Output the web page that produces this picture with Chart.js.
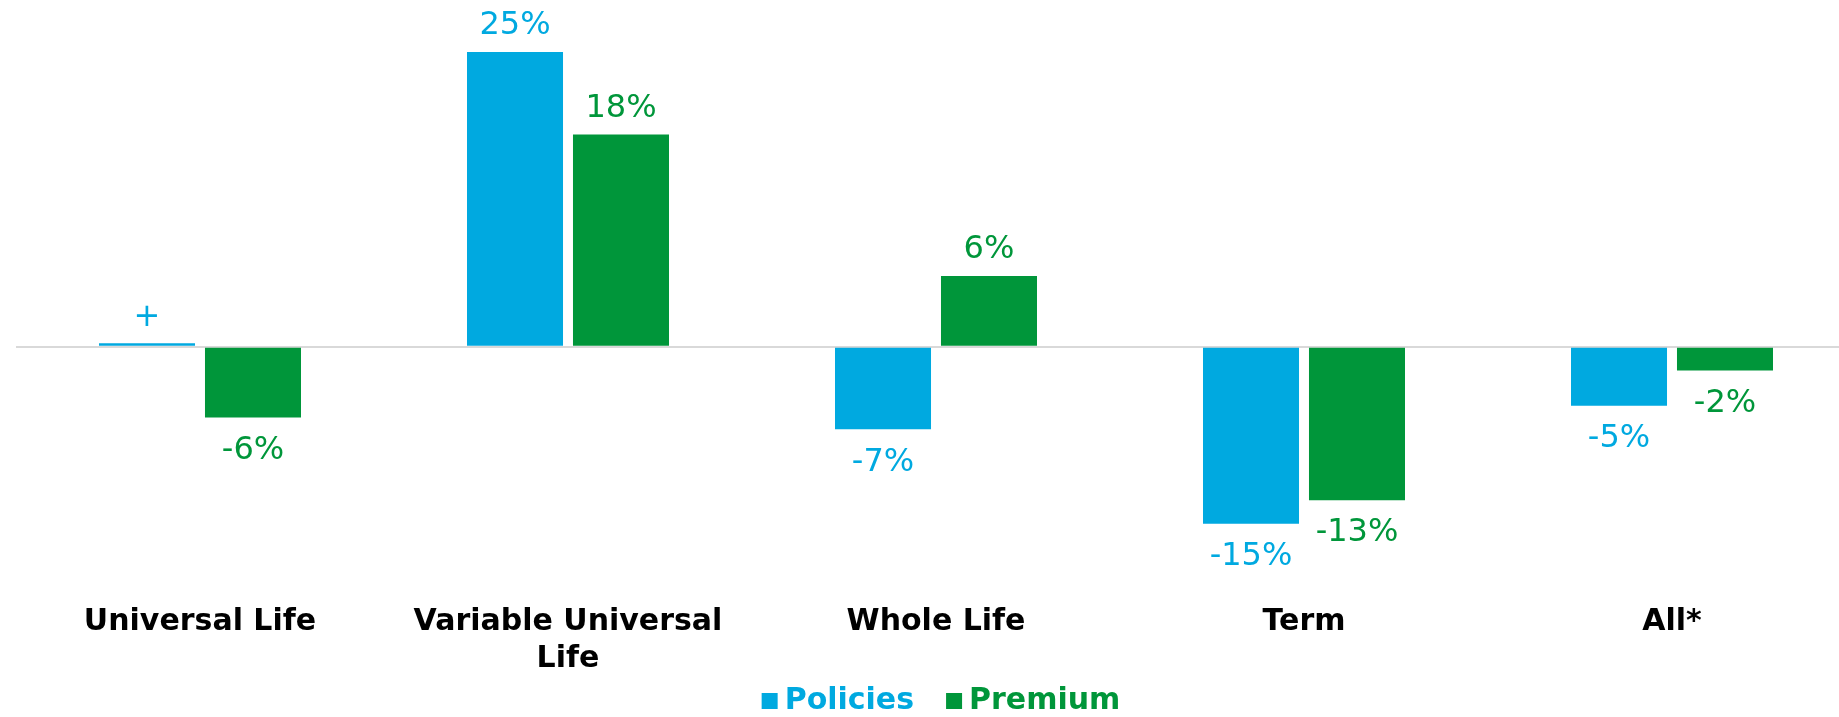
<!DOCTYPE html>
<html>
<head>
<meta charset="utf-8">
<script src="https://cdn.jsdelivr.net/npm/chart.js@4.4.1/dist/chart.umd.min.js"></script>
<style>
  html, body { margin: 0; padding: 0; background: #ffffff; overflow: hidden; }
  #wrap { position: relative; width: 1860px; height: 717px; }
</style>
</head>
<body>
<div id="wrap"><canvas id="c"></canvas></div>
<script>
const categories = ['Universal Life', ['Variable Universal', 'Life'], 'Whole Life', 'Term', 'All*'];
const policies = [0.3, 25, -7, -15, -5];
const premium = [-6, 18, 6, -13, -2];
const policyLabels = ['+', '25%', '-7%', '-15%', '-5%'];
const premiumLabels = ['-6%', '18%', '6%', '-13%', '-2%'];
const seriesNames = ['Policies', 'Premium'];

const BLUE = '#00A9E0';
const GREEN = '#00963A';

const valueLabelPlugin = {
  id: 'valueLabels',
  afterDatasetsDraw(chart) {
    const ctx = chart.ctx;
    ctx.save();
    ctx.font = '32px "DejaVu Sans"';
    ctx.textAlign = 'center';
    ctx.textBaseline = 'middle';
    chart.data.datasets.forEach((ds, di) => {
      const meta = chart.getDatasetMeta(di);
      meta.data.forEach((bar, i) => {
        const v = ds.data[i];
        ctx.fillStyle = ds.backgroundColor;
        const y = v >= 0 ? bar.y - 26 : bar.y + 33;
        ctx.fillText(ds.valueLabels[i], bar.x, y);
      });
    });
    ctx.restore();
  }
};

const legendPlugin = {
  id: 'customLegend',
  afterDraw(chart) {
    const ctx = chart.ctx;
    ctx.save();
    ctx.font = 'bold 30px "DejaVu Sans"';
    ctx.textBaseline = 'middle';
    ctx.textAlign = 'left';
    const box = 16, gapBox = 7, gapItem = 32;
    const items = chart.data.datasets.map(ds => ({ text: ds.label, color: ds.backgroundColor, w: ctx.measureText(ds.label).width }));
    let total = 0;
    items.forEach((it, i) => { total += box + gapBox + it.w + (i < items.length - 1 ? gapItem : 0); });
    const cx = (chart.chartArea.left + chart.chartArea.right) / 2 + 5;
    let x = cx - total / 2;
    const yMid = 701;
    items.forEach(it => {
      ctx.fillStyle = it.color;
      ctx.fillRect(x, yMid - box / 2, box, box);
      x += box + gapBox;
      ctx.fillText(it.text, x, yMid);
      x += it.w + gapItem;
    });
    ctx.restore();
  }
};

new Chart(document.getElementById('c'), {
  type: 'bar',
  data: {
    labels: categories,
    datasets: [
      { label: seriesNames[0], data: policies, valueLabels: policyLabels, backgroundColor: BLUE,
        categoryPercentage: 0.576, barPercentage: 0.906 },
      { label: seriesNames[1], data: premium, valueLabels: premiumLabels, backgroundColor: GREEN,
        categoryPercentage: 0.576, barPercentage: 0.906 }
    ]
  },
  options: {
    responsive: true,
    maintainAspectRatio: false,
    animation: false,
    layout: { padding: { left: 16, right: 4, top: 0, bottom: 0 } },
    plugins: {
      tooltip: { enabled: false },
      legend: { display: false }
    },
    scales: {
      x: {
        grid: { display: false },
        border: { display: false },
        afterFit(scale) { scale.height = 139; },
        ticks: {
          color: '#000000',
          font: { family: 'DejaVu Sans', size: 30, weight: 'bold', lineHeight: 1.23 },
          padding: 18,
          maxRotation: 0,
          autoSkip: false
        }
      },
      y: {
        min: -19.6,
        max: 29.4,
        ticks: { display: false },
        border: { display: false },
        grid: {
          drawTicks: false,
          lineWidth: 2,
          color: (c) => (c.tick && c.tick.value === 0 ? '#d9d9d9' : 'rgba(0,0,0,0)')
        }
      }
    }
  },
  plugins: [valueLabelPlugin, legendPlugin]
});
</script>
</body>
</html>
